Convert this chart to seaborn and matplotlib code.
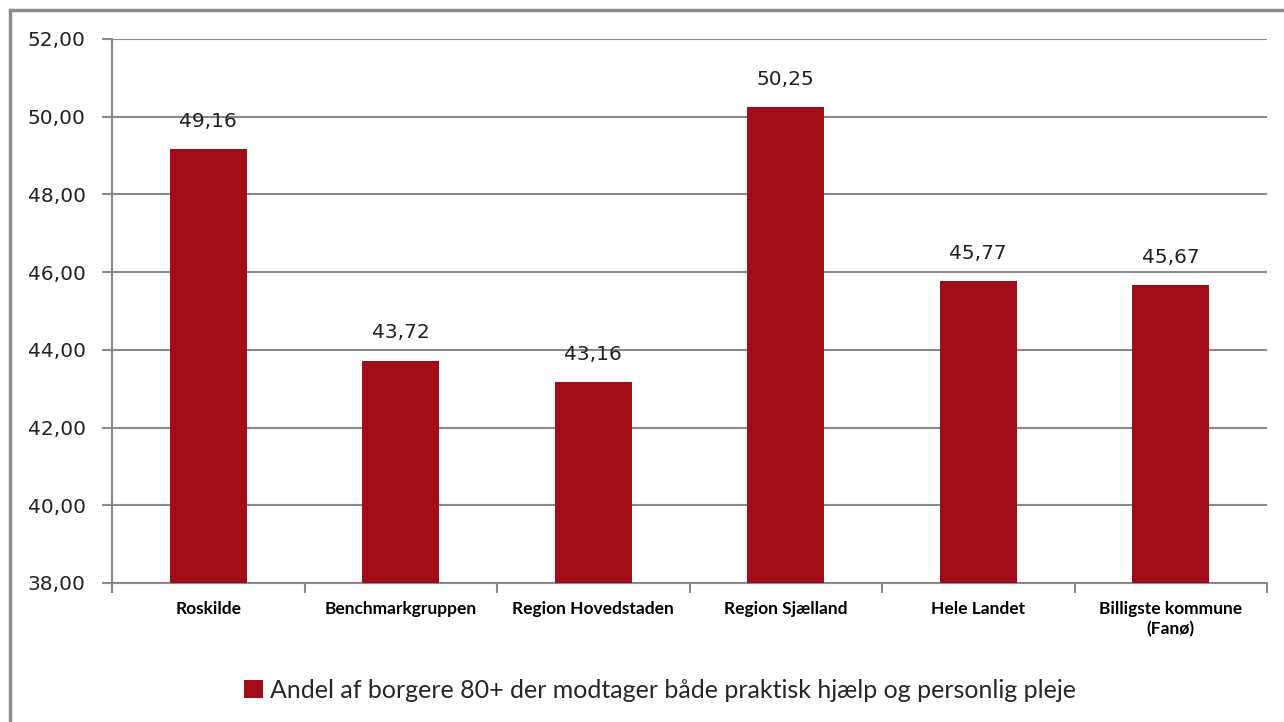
import matplotlib
matplotlib.use('Agg')
import matplotlib.pyplot as plt
import seaborn as sns
import pandas as pd
from matplotlib.lines import Line2D
from matplotlib.patches import Patch

# data
categories = ['Roskilde', 'Benchmarkgruppen', 'Region Hovedstaden', 'Region Sjælland',
              'Hele Landet', 'Billigste kommune\n(Fanø)']
values = [49.16, 43.72, 43.16, 50.25, 45.77, 45.67]
series_name = 'Andel af borgere 80+ der modtager både praktisk hjælp og personlig pleje'
y_ticks = [38, 40, 42, 44, 46, 48, 50, 52]

bar_color = '#A20C19'
grid_color = '#8A8A8A'

sns.set_theme(style='white')
plt.rcParams['font.family'] = ['DejaVu Sans']

df = pd.DataFrame({'kategori': categories, 'andel': values})

fig = plt.figure(figsize=(12.84, 7.22), dpi=100)
ax = fig.add_axes([112 / 1284, 1 - 583 / 722, (1267 - 112) / 1284, (583 - 39) / 722])

sns.barplot(data=df, x='kategori', y='andel', color=bar_color, width=0.4,
            saturation=1, linewidth=0, ax=ax, zorder=3)

ax.set_ylim(38, 52)
ax.set_xlim(-0.5, len(categories) - 0.5)
ax.set_yticks(y_ticks)
ax.set_yticklabels([f'{v:.2f}'.replace('.', ',') for v in y_ticks], fontsize=14.5, color='#222222')
ax.yaxis.grid(True, color=grid_color, linewidth=1.5, zorder=0)
ax.set_axisbelow(True)
ax.tick_params(axis='y', length=7, width=1.5, color=grid_color, pad=12, left=True)

# category labels and boundary ticks
ax.set_xticks(range(len(categories)))
ax.set_xticklabels(categories, fontsize=12.5, fontweight='bold', family=['Lato', 'DejaVu Sans'],
                   color='black', linespacing=1.3)
ax.tick_params(axis='x', length=0, pad=13)
ax.set_xticks([i - 0.5 for i in range(len(categories) + 1)], minor=True)
ax.tick_params(axis='x', which='minor', length=7, width=1.5, color=grid_color, bottom=True)

for s in ['top', 'right']:
    ax.spines[s].set_visible(False)
for s in ['left', 'bottom']:
    ax.spines[s].set_color(grid_color)
    ax.spines[s].set_linewidth(1.5)

ax.set_xlabel('')
ax.set_ylabel('')

# data labels
for i, v in enumerate(values):
    ax.annotate(f'{v:.2f}'.replace('.', ','), (i, v), xytext=(0, 20), textcoords='offset points',
                ha='center', va='center', fontsize=14.5, color='#222222', zorder=5)

# legend
handle = Patch(facecolor=bar_color, edgecolor='none')
fig.legend([handle], [series_name], loc='center', bbox_to_anchor=(660 / 1284, 1 - 690 / 722),
           frameon=False, prop={'family': ['Lato', 'DejaVu Sans'], 'size': 18},
           handlelength=0.75, handleheight=0.75, handletextpad=0.3)

# chart-area border (top and left visible)
fig.add_artist(Line2D([9.5 / 1284, 9.5 / 1284], [0, 1 - 10 / 722], color=grid_color, linewidth=2.5,
                      transform=fig.transFigure))
fig.add_artist(Line2D([9.5 / 1284, 1], [1 - 10 / 722, 1 - 10 / 722], color=grid_color, linewidth=2.5,
                      transform=fig.transFigure))

fig.savefig('out.png', dpi=100)
